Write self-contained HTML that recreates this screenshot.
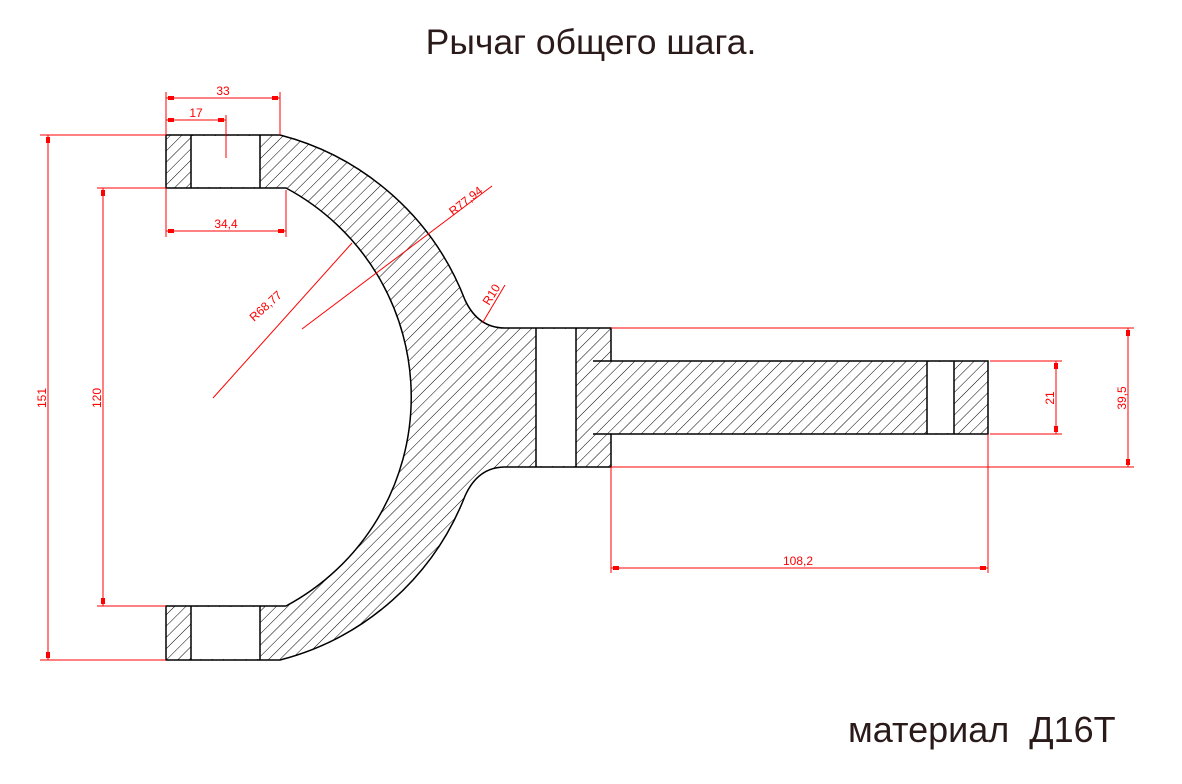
<!DOCTYPE html>
<html><head><meta charset="utf-8"><style>
body{margin:0;background:#fff;width:1182px;height:784px;overflow:hidden}
svg{display:block}
text{font-family:"Liberation Sans",sans-serif}
</style></head><body>
<svg width="1182" height="784" viewBox="0 0 1182 784">
<defs>
<pattern id="h" patternUnits="userSpaceOnUse" width="8" height="8" patternTransform="rotate(45)">
<line x1="0" y1="0" x2="0" y2="8" stroke="#000" stroke-width="1"/>
</pattern>
</defs>
<text x="591" y="54" font-size="35.5" text-anchor="middle" fill="#2a1a1a">Рычаг общего шага.</text>
<text x="848" y="742" font-size="36" fill="#2a1a1a">материал&nbsp; Д16Т</text>

<path d="M166,135 L280,135 A271,271 0 0 1 465,300 Q478,328 505,328 L611,328 L611,361 L988,361 L988,434 L611,434 L611,467 L505,467 Q478,467 465,496 A271,271 0 0 1 280,660 L166,660 L166,606 L286,606 A237,237 0 0 0 286,188 L166,188 Z" fill="url(#h)" stroke="#000" stroke-width="1.5"/>
<rect x="191" y="136" width="69" height="51" fill="#fff"/>
<rect x="191" y="607" width="69" height="52" fill="#fff"/>
<rect x="536" y="329" width="40" height="137" fill="#fff"/>
<rect x="927" y="362" width="27" height="71" fill="#fff"/>
<g stroke="#000" stroke-width="1.5" fill="none">
<line x1="191" y1="135" x2="191" y2="188"/><line x1="260" y1="135" x2="260" y2="188"/>
<line x1="191" y1="606" x2="191" y2="660"/><line x1="260" y1="606" x2="260" y2="660"/>
<line x1="536" y1="328" x2="536" y2="467"/><line x1="576" y1="328" x2="576" y2="467"/>
<line x1="927" y1="361" x2="927" y2="434"/><line x1="954" y1="361" x2="954" y2="434"/>
<line x1="593" y1="361" x2="611" y2="361"/><line x1="593" y1="434" x2="611" y2="434"/>
</g>

<g stroke="#f00" stroke-width="1" fill="none">
<line x1="40" y1="135" x2="166" y2="135"/><line x1="40" y1="660" x2="166" y2="660"/>
<line x1="48" y1="135" x2="48" y2="660"/>
<line x1="97" y1="188" x2="166" y2="188"/><line x1="97" y1="606" x2="166" y2="606"/>
<line x1="103" y1="188" x2="103" y2="606"/>
<line x1="166" y1="92" x2="166" y2="135"/><line x1="280" y1="92" x2="280" y2="135"/>
<line x1="166" y1="98" x2="280" y2="98"/>
<line x1="226" y1="115" x2="226" y2="158"/>
<line x1="166" y1="120" x2="226" y2="120"/>
<line x1="166" y1="188" x2="166" y2="237"/><line x1="286" y1="190" x2="286" y2="237"/>
<line x1="166" y1="231" x2="286" y2="231"/>
<line x1="213" y1="398" x2="352" y2="243"/>
<line x1="302" y1="329" x2="492" y2="186"/>
<line x1="483" y1="322" x2="505" y2="285"/>
<line x1="611" y1="328" x2="1134" y2="328"/><line x1="611" y1="467" x2="1134" y2="467"/>
<line x1="1128" y1="328" x2="1128" y2="467"/>
<line x1="990" y1="361" x2="1062" y2="361"/><line x1="990" y1="434" x2="1062" y2="434"/>
<line x1="1056" y1="361" x2="1056" y2="434"/>
<line x1="611" y1="467" x2="611" y2="573"/><line x1="988" y1="434" x2="988" y2="573"/>
<line x1="611" y1="568" x2="988" y2="568"/>
</g>
<g fill="#f00">
<rect x="46" y="137" width="4" height="6"/><rect x="46" y="652" width="4" height="6"/>
<rect x="101" y="190" width="4" height="6"/><rect x="101" y="598" width="4" height="6"/>
<rect x="168" y="96" width="6" height="4"/><rect x="272" y="96" width="6" height="4"/>
<rect x="168" y="118" width="6" height="4"/><rect x="218" y="118" width="6" height="4"/>
<rect x="168" y="229" width="6" height="4"/><rect x="278" y="229" width="6" height="4"/>
<rect x="1126" y="330" width="4" height="6"/><rect x="1126" y="459" width="4" height="6"/>
<rect x="1054" y="363" width="4" height="6"/><rect x="1054" y="426" width="4" height="6"/>
<rect x="613" y="566" width="6" height="4"/><rect x="980" y="566" width="6" height="4"/>
</g>
<g fill="#f00" font-size="12">
<text x="223" y="95" text-anchor="middle">33</text>
<text x="196" y="117" text-anchor="middle">17</text>
<text x="226" y="228" text-anchor="middle">34,4</text>
<text x="798" y="565" text-anchor="middle">108,2</text>
<text transform="translate(46,398) rotate(-90)" text-anchor="middle">151</text>
<text transform="translate(101,398) rotate(-90)" text-anchor="middle">120</text>
<text transform="translate(1054,398) rotate(-90)" text-anchor="middle">21</text>
<text transform="translate(1126,398) rotate(-90)" text-anchor="middle">39,5</text>
<text transform="translate(254,322) rotate(-42)">R68,77</text>
<text transform="translate(453,216) rotate(-38)">R77,94</text>
<text transform="translate(489,306) rotate(-58)">R10</text>
</g>
</svg>
</body></html>
